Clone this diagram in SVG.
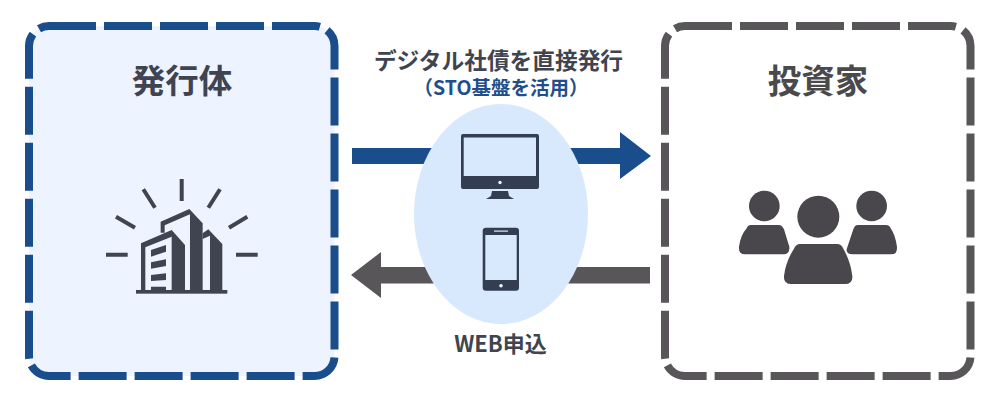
<svg xmlns="http://www.w3.org/2000/svg" width="1000" height="400" viewBox="0 0 1000 400">
<style>
.box{stroke-width:8;stroke-dasharray:47 8 48 8 48 8 48 8 48 8 41.2 8 48 8 48 8 48 8 48 8 48 8 41.6 8 48 8 48 8 48 8 48 8 43 7 48 8 48 8 48 8 48 8 48 8 45.6 8 11.9 0}
text{font-family:"Noto Sans CJK JP","Noto Sans",sans-serif;text-anchor:middle}
.title{font-size:33.5px;font-weight:700}
.ray{stroke:#3f4450;stroke-width:4;fill:none}
.dark{fill:#3f4450}
.dev{fill:#333e52}
.person{fill:#4a474c}
</style>
<rect width="1000" height="400" fill="#fff"/>
<g id="issuer">
<rect class="box" x="29" y="26" width="305.5" height="350" rx="20" fill="#edf3ff" stroke="#1a4d8c"/>
<text class="title" x="182" y="93" fill="#3f4450">発行体</text>
<g id="building-icon">
<path class="ray" d="M181.7 179V201M143.3 189.3L155 207.7M220 189.3L208.3 207.7M116 216.7L135 227.7M247.3 216.7L229 227.7M106 254.7H127.7M236 254.7H257.7"/>
<g transform="translate(90 170) scale(.3333)" class="dark">
<rect x="138" y="360" width="274" height="11"/>
<path d="M212 188V155L298 117L338 160V365H300V133L224 166V188Z"/>
<path d="M153 365V220L245 180L285 225V365H245V200L166 232V365Z"/>
<path d="M338 190L355 178L397 222V365H360V197L338 207Z"/>
<path d="M183 240L228 225V245L183 260ZM183 277L228 268V288L183 296ZM183 315L228 310V330L183 333ZM183 350H228V368H183Z"/>
</g>
</g>
</g>
<g id="investor">
<rect class="box" x="665" y="26" width="305.5" height="350" rx="20" fill="#fff" stroke="#595659"/>
<text class="title" x="818" y="93" fill="#4a494c">投資家</text>
<g id="people-icon" transform="translate(720 170) scale(.3333)" class="person">
<circle cx="133" cy="108" r="46"/>
<circle cx="455" cy="108" r="46"/>
<circle cx="295" cy="140" r="63"/>
<path d="M92 165H176Q186 165 192 178L208 230Q210 253 190 253H75Q55 253 57 230Q62 195 80 175Q84 165 92 165Z"/>
<path d="M414 165H498Q508 165 512 175Q526 195 531 230Q533 253 513 253H398Q378 253 380 238L400 178Q404 165 414 165Z"/>
<path d="M240 222H352Q364 222 370 236Q392 275 397 318Q399 342 375 342H214Q190 342 192 318Q197 275 222 236Q228 222 240 222Z"/>
</g>
</g>
<g id="connectors">
<path fill="#1a4d8c" d="M352 148H620V132L651 156L620 179V164H352Z"/>
<path fill="#595659" d="M650 267H381V252L351 275L381 298V283.5H650Z"/>
</g>
<g id="platform">
<ellipse cx="501" cy="214" rx="87" ry="110" fill="#d8e8fd"/>
<g id="monitor-icon">
<path class="dev" fill-rule="evenodd" d="M463 134H537Q539 134 539 136V187Q539 189 537 189H463Q461 189 461 187V136Q461 134 463 134ZM463.7 137.5V176H536V137.5Z"/>
<circle cx="500" cy="182.5" r="1.7" fill="#eef4fd"/>
<path class="dev" d="M492 191H508L509 196L514 199H486L491 196Z"/>
</g>
<g id="phone-icon">
<path class="dev" fill-rule="evenodd" d="M486 227.7H516Q519 227.7 519 231V287.5Q519 290.7 516 290.7H486Q482.7 290.7 482.7 287.5V231Q482.7 227.7 486 227.7ZM485.3 235V280H516.7V235Z"/>
<rect x="494" y="230.5" width="14" height="1.2" fill="#dfeafb"/>
<circle cx="501" cy="285.7" r="1.8" fill="#eef4fd"/>
</g>
</g>
<g id="labels">
<text x="498.5" y="68.5" font-size="22.7" font-weight="700" fill="#3f4450">デジタル社債を直接発行</text>
<text x="501" y="94.5" font-size="19.5" font-weight="700" fill="#1f4e8c">（STO基盤を活用）</text>
<text x="500.5" y="352" font-size="22" font-weight="700" fill="#3f4450">WEB申込</text>
</g>
</svg>
